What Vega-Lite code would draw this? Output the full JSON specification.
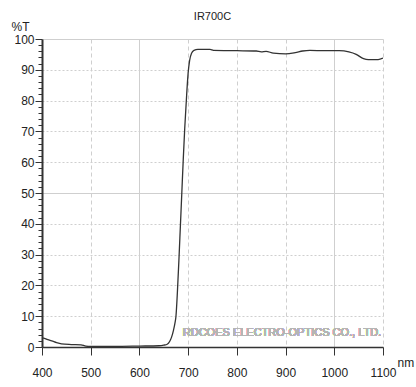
{
  "$schema": "https://vega.github.io/schema/vega-lite/v6.json",
  "autosize": {"type": "none"},
  "width": 341,
  "height": 308,
  "padding": {"left": 42, "top": 39, "right": 33, "bottom": 40},
  "background": "white",
  "title": {"text": "IR700C", "fontSize": 11, "font": "Liberation Sans", "fontWeight": "normal", "color": "#222", "offset": -2, "anchor": "middle"},
  "config": {
    "view": {"stroke": null},
    "axis": {"labelFont": "Liberation Sans", "labelFontSize": 12, "labelColor": "#222", "titleFont": "Liberation Sans", "titleFontWeight": "normal", "titleFontSize": 12, "titleColor": "#222", "labelOverlap": false, "labelFlush": false, "labelBound": false}
  },
  "data": {"values": [
    {"nm": 400, "t": 3.0}, {"nm": 405, "t": 2.8}, {"nm": 410, "t": 2.5}, {"nm": 420, "t": 2.0},
    {"nm": 430, "t": 1.4}, {"nm": 440, "t": 1.0}, {"nm": 460, "t": 0.8}, {"nm": 480, "t": 0.7},
    {"nm": 490, "t": 0.3}, {"nm": 500, "t": 0.2}, {"nm": 550, "t": 0.2}, {"nm": 600, "t": 0.3},
    {"nm": 640, "t": 0.4}, {"nm": 650, "t": 0.6}, {"nm": 657, "t": 0.9}, {"nm": 662, "t": 1.8},
    {"nm": 666, "t": 3.2}, {"nm": 670, "t": 5.5}, {"nm": 673, "t": 7.8}, {"nm": 675, "t": 10},
    {"nm": 678, "t": 18}, {"nm": 681, "t": 28}, {"nm": 684, "t": 39}, {"nm": 687, "t": 50},
    {"nm": 690, "t": 61}, {"nm": 693, "t": 71}, {"nm": 697, "t": 82}, {"nm": 700, "t": 89},
    {"nm": 703, "t": 93}, {"nm": 707, "t": 95.4}, {"nm": 712, "t": 96.3}, {"nm": 720, "t": 96.6},
    {"nm": 745, "t": 96.6}, {"nm": 752, "t": 96.3}, {"nm": 800, "t": 96.2}, {"nm": 840, "t": 96.1},
    {"nm": 850, "t": 95.8}, {"nm": 860, "t": 96.0}, {"nm": 875, "t": 95.4}, {"nm": 900, "t": 95.2},
    {"nm": 920, "t": 95.6}, {"nm": 935, "t": 96.1}, {"nm": 950, "t": 96.3}, {"nm": 980, "t": 96.2},
    {"nm": 1010, "t": 96.2}, {"nm": 1030, "t": 95.8}, {"nm": 1045, "t": 95.0}, {"nm": 1060, "t": 93.6},
    {"nm": 1070, "t": 93.3}, {"nm": 1090, "t": 93.3}, {"nm": 1100, "t": 93.8}
  ]},
  "layer": [
    {
      "mark": {"type": "line", "color": "#333", "strokeWidth": 1.3, "interpolate": "monotone", "clip": true},
      "encoding": {
        "x": {"field": "nm", "type": "quantitative", "scale": {"domain": [400, 1100], "nice": false},
          "axis": {"values": [400, 500, 600, 700, 800, 900, 1000, 1100], "tickCount": 20, "format": "d", "title": "nm", "titleX": 355, "titleY": 15, "titleAlign": "left", "titleBaseline": "middle", "titleAnchor": null,
            "tickSize": 8, "tickColor": "#333", "domainColor": "#333", "domainWidth": 1.5, "labelPadding": 12,
            "grid": true, "gridColor": "#cfcfcf", "gridWidth": 1,
            "gridDash": {"condition": {"test": "datum.value === 600 || datum.value === 1000", "value": []}, "value": [4, 3]}}},
        "y": {"field": "t", "type": "quantitative", "scale": {"domain": [0, 100], "nice": false},
          "axis": {"values": [0, 2, 4, 6, 8, 10, 12, 14, 16, 18, 20, 22, 24, 26, 28, 30, 32, 34, 36, 38, 40, 42, 44, 46, 48, 50, 52, 54, 56, 58, 60, 62, 64, 66, 68, 70, 72, 74, 76, 78, 80, 82, 84, 86, 88, 90, 92, 94, 96, 98, 100],
            "tickCount": 100,
            "labelExpr": "datum.value % 10 === 0 ? datum.label : ''",
            "title": "%T", "titleAngle": 0, "titleX": -22, "titleY": -6, "titleAlign": "center", "titleBaseline": "bottom",
            "tickSize": {"condition": {"test": "datum.value % 10 === 0", "value": 7}, "value": 4},
            "tickColor": "#333", "domainColor": "#333", "domainWidth": 2, "labelPadding": 1,
            "grid": true, "gridColor": "#cfcfcf",
            "gridDash": {"condition": {"test": "datum.value === 50 || datum.value === 100", "value": []}, "value": [2, 2]},
            "gridOpacity": {"condition": {"test": "datum.value % 10 === 0", "value": 1}, "value": 0}}}
      }
    },
    {
      "mark": {"type": "text", "text": "RDCOES ELECTRO-OPTICS CO., LTD.", "align": "left", "baseline": "middle", "color": "#b5b5b5", "fontSize": 11, "font": "Liberation Sans"},
      "encoding": {"x": {"datum": 689}, "y": {"datum": 4.5}}
    }
  ]
}
